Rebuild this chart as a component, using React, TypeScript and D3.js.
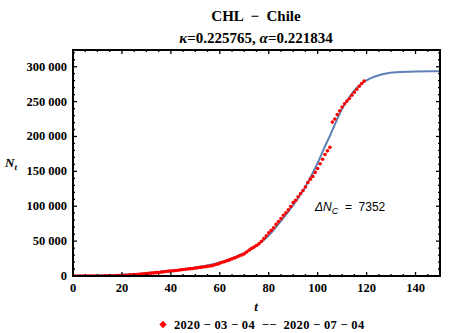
import React, { useRef, useEffect } from 'react';
import * as d3 from 'd3';

// daily cumulative cases, t = 0 .. 119
const caseCounts = [
  1, 3, 4, 5, 7, 10, 13, 17, 23, 33,
  43, 61, 75, 156, 201, 238, 342, 434, 537, 632,
  746, 922, 1142, 1306, 1610, 1909, 2139, 2449, 2738, 3031,
  3404, 3737, 4161, 4471, 4815, 5116, 5546, 5972, 6501, 6927,
  7213, 7525, 7917, 8273, 8807, 9252, 9730, 10088, 10507, 10832,
  11296, 11812, 12306, 12858, 13331, 13813, 14365, 14885, 16023, 17008,
  18435, 19663, 20643, 22016, 23048, 24581, 25972, 27219, 28866, 30063,
  31721, 34381, 37040, 39542, 41428, 43781, 46059, 49579, 53617, 57581,
  61857, 65393, 69102, 73997, 77961, 82289, 86943, 90638, 94858, 99688,
  105159, 108686, 113628, 118292, 122499, 127745, 134150, 138846, 142759, 148496,
  154092, 160846, 167355, 174293, 179436, 184449, 220628, 225103, 231393, 236748,
  242355, 246963, 250767, 254416, 259064, 263360, 267766, 271982, 275999, 279393,
];

// fitted curve
const fitDays = [0, 10, 20, 30, 40, 50, 60, 65, 70, 75, 80, 85, 90, 95, 100, 103, 105, 108, 110, 113, 116, 118, 120, 122, 125, 128, 132, 140, 150];
const fitValues = [200, 700, 1900, 4000, 7400, 12200, 19500, 25000, 33000, 43500, 58000, 79000, 101500, 128000, 162000, 186000, 201000, 225000, 240000, 256500, 270000, 276000, 280500, 284000, 287800, 290300, 292000, 293200, 293500];

const xTicks = [0, 20, 40, 60, 80, 100, 120, 140];
const yTicks = [0, 50000, 100000, 150000, 200000, 250000, 300000];

const W = 450;
const H = 333;

const App = () => {
  const svgRef = useRef(null);

  useEffect(() => {
    const svg = d3.select(svgRef.current);
    svg.selectAll('*').remove();

    const margin = { top: 50, right: 10, bottom: 57, left: 73 };
    const innerWidth = W - margin.left - margin.right;
    const innerHeight = H - margin.top - margin.bottom;

    const x = d3.scaleLinear().domain([0, 150]).range([margin.left, margin.left + innerWidth]);
    const y = d3.scaleLinear().domain([0, 324000]).range([margin.top + innerHeight, margin.top]);

    const serif = '"Liberation Serif", "DejaVu Serif", serif';
    const sans = '"Liberation Sans", Arial, sans-serif';

    // title
    svg.append('text')
      .attr('x', 256).attr('y', 21)
      .attr('text-anchor', 'middle')
      .attr('xml:space', 'preserve')
      .style('font-family', serif).style('font-weight', 'bold').style('font-size', '15px')
      .text('CHL  \u2212  Chile');

    const sub = svg.append('text')
      .attr('x', 256).attr('y', 43)
      .attr('text-anchor', 'middle')
      .style('font-family', serif).style('font-weight', 'bold').style('font-size', '15px');
    sub.append('tspan').style('font-style', 'italic').text('\u03ba');
    sub.append('tspan').text('=0.225765, ');
    sub.append('tspan').style('font-style', 'italic').text('\u03b1');
    sub.append('tspan').text('=0.221834');

    // clip for data
    svg.append('clipPath').attr('id', 'plotclip')
      .append('rect')
      .attr('x', margin.left).attr('y', margin.top)
      .attr('width', innerWidth).attr('height', innerHeight);

    const plot = svg.append('g').attr('clip-path', 'url(#plotclip)');

    const fitData = fitDays.map((d, i) => [d, fitValues[i]]);
    const line = d3.line()
      .x(d => x(d[0]))
      .y(d => y(d[1]))
      .curve(d3.curveMonotoneX);

    plot.append('path')
      .attr('d', line(fitData))
      .attr('fill', 'none')
      .attr('stroke', '#5e81b5')
      .attr('stroke-width', 2);

    plot.selectAll('.pt')
      .data(caseCounts)
      .enter()
      .append('circle')
      .attr('class', 'pt')
      .attr('cx', (d, i) => x(i))
      .attr('cy', d => y(d))
      .attr('r', 1.8)
      .attr('fill', '#ff0000');

    // frame with inward ticks on all sides
    const x0 = margin.left, x1 = margin.left + innerWidth;
    const y0 = margin.top + innerHeight, y1 = margin.top;
    const frame = svg.append('g').attr('stroke', '#000');

    d3.range(0, 151, 5).forEach(t => {
      const len = t % 20 === 0 ? 4 : 2;
      frame.append('line').attr('x1', x(t)).attr('x2', x(t)).attr('y1', y0).attr('y2', y0 - len).attr('stroke-width', 1.3);
      frame.append('line').attr('x1', x(t)).attr('x2', x(t)).attr('y1', y1).attr('y2', y1 + len).attr('stroke-width', 1.3);
    });
    d3.range(0, 324000, 10000).forEach(v => {
      const len = v % 50000 === 0 ? 4 : 2;
      frame.append('line').attr('y1', y(v)).attr('y2', y(v)).attr('x1', x0).attr('x2', x0 + len).attr('stroke-width', 1.3);
      frame.append('line').attr('y1', y(v)).attr('y2', y(v)).attr('x1', x1).attr('x2', x1 - len).attr('stroke-width', 1.3);
    });

    svg.append('rect')
      .attr('x', x0).attr('y', y1)
      .attr('width', innerWidth).attr('height', innerHeight)
      .attr('fill', 'none').attr('stroke', '#000').attr('stroke-width', 2);

    // tick labels
    const fmt = (v: number) => d3.format(',')(v).replace(/,/g, ' ');
    svg.selectAll('.xl')
      .data(xTicks)
      .enter()
      .append('text')
      .attr('x', d => x(d)).attr('y', y0 + 16)
      .attr('text-anchor', 'middle')
      .style('font-family', serif).style('font-weight', 'bold').style('font-size', '12.5px')
      .text(d => d);

    svg.selectAll('.yl')
      .data(yTicks)
      .enter()
      .append('text')
      .attr('x', x0 - 6).attr('y', d => y(d) + 4)
      .attr('text-anchor', 'end')
      .attr('xml:space', 'preserve')
      .style('font-family', serif).style('font-weight', 'bold').style('font-size', '12.5px')
      .text(d => fmt(d));

    // axis labels
    const ny = svg.append('text')
      .attr('x', 5).attr('y', 167)
      .style('font-family', serif).style('font-style', 'italic').style('font-weight', 'bold').style('font-size', '13px');
    ny.append('tspan').text('N');
    ny.append('tspan').attr('dy', 3).style('font-size', '9px').text('t');

    svg.append('text')
      .attr('x', 256).attr('y', 311)
      .attr('text-anchor', 'middle')
      .style('font-family', serif).style('font-style', 'italic').style('font-weight', 'bold').style('font-size', '13px')
      .text('t');

    // annotation
    const ann = svg.append('text')
      .attr('x', 315).attr('y', 211)
      .style('font-family', sans).style('font-size', '12px');
    ann.append('tspan').style('font-style', 'italic').text('\u0394N');
    ann.append('tspan').attr('dy', 3).style('font-style', 'italic').style('font-size', '9px').text('C');
    ann.append('tspan').attr('dy', -3).attr('xml:space', 'preserve').text('  =  7352');

    // legend
    svg.append('rect')
      .attr('x', -2.6).attr('y', -2.6).attr('width', 5.2).attr('height', 5.2)
      .attr('transform', 'translate(163,324.5) rotate(45)')
      .attr('fill', '#ff0000');

    svg.append('text')
      .attr('x', 174).attr('y', 329)
      .attr('xml:space', 'preserve')
      .style('font-family', serif).style('font-weight', 'bold').style('font-size', '12.5px')
      .style('letter-spacing', '0.3px')
      .text('2020 \u2212 03 \u2212 04  \u2212\u2212  2020 \u2212 07 \u2212 04');
  }, []);

  return (
    <svg
      ref={svgRef}
      width={W}
      height={H}
      style={{ position: 'fixed', left: 0, top: 0, background: '#fff' }}
    ></svg>
  );
};

export default App;
